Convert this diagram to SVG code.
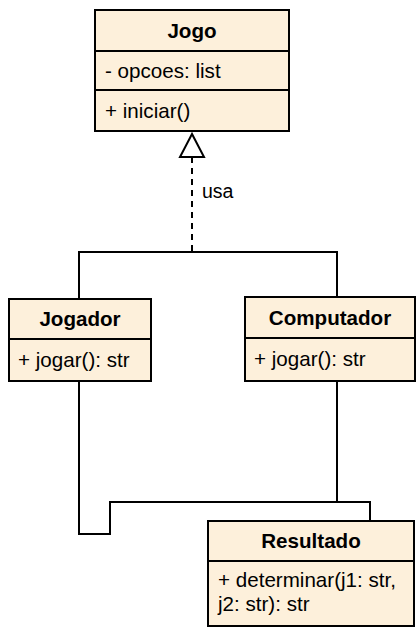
<svg xmlns="http://www.w3.org/2000/svg" width="418" height="638" viewBox="0 0 418 638">
<defs>
<style>
.box{fill:#fdf0db;stroke:#000;stroke-width:2}
.div{stroke:#000;stroke-width:2;fill:none}
.t{font-family:"Liberation Sans",Arial,Helvetica,sans-serif;font-size:20.6px;fill:#000}
.b{font-weight:bold;text-anchor:middle}
.c{fill:none;stroke:#000;stroke-width:2}
</style>
</defs>
<rect width="418" height="638" fill="#fff"/>
<g id="connectors">
<line class="c" x1="192" y1="157" x2="192" y2="252" stroke-dasharray="6 5"/>
<polygon points="192,134 180,157 204,157" fill="#fff" stroke="#000" stroke-width="2"/>
<polyline class="c" points="79,299 79,252 337,252 337,297"/>
<polyline class="c" points="79,381 79,534 110,534 110,502 370,502 370,521"/>
<line class="c" x1="337" y1="381" x2="337" y2="502"/>
<text class="t" x="202" y="198" style="font-size:19.5px">usa</text>
</g>
<g id="Jogo">
<rect class="box" x="95" y="10" width="194" height="121"/>
<line class="div" x1="95" y1="51" x2="289" y2="51"/>
<line class="div" x1="95" y1="90" x2="289" y2="90"/>
<text class="t b" x="192" y="38">Jogo</text>
<text class="t" x="105" y="78">- opcoes: list</text>
<text class="t" x="105" y="118">+ iniciar()</text>
</g>
<g id="Jogador">
<rect class="box" x="9" y="299" width="142" height="82"/>
<line class="div" x1="9" y1="339" x2="151" y2="339"/>
<text class="t b" x="80" y="326">Jogador</text>
<text class="t" x="18" y="367">+ jogar(): str</text>
</g>
<g id="Computador">
<rect class="box" x="245" y="297" width="170" height="84"/>
<line class="div" x1="245" y1="338" x2="415" y2="338"/>
<text class="t b" x="330" y="325">Computador</text>
<text class="t" x="254" y="366">+ jogar(): str</text>
</g>
<g id="Resultado">
<rect class="box" x="208" y="521" width="206" height="105"/>
<line class="div" x1="208" y1="561" x2="414" y2="561"/>
<text class="t b" x="311" y="548">Resultado</text>
<text class="t" x="218" y="587">+ determinar(j1: str,</text>
<text class="t" x="218" y="611">j2: str): str</text>
</g>
</svg>
